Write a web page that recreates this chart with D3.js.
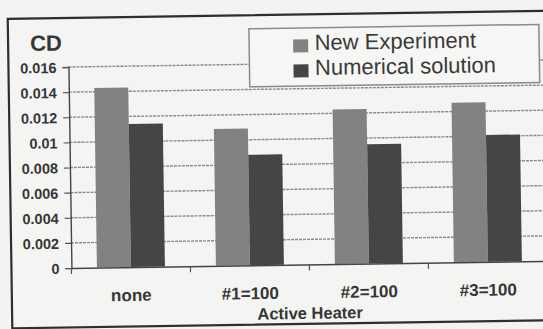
<!DOCTYPE html>
<html>
<head>
<meta charset="utf-8">
<script src="https://cdn.jsdelivr.net/npm/d3@7/dist/d3.min.js"></script>
<style>
  html, body { margin: 0; padding: 0; background: #f3f3f1; }
  svg { display: block; }
  text { font-family: "Liberation Sans", Arial, sans-serif; }
</style>
</head>
<body>
<script>
// Drag coefficient by active heater configuration
const categories = ["none", "#1=100", "#2=100", "#3=100"];
const seriesNames = ["New Experiment", "Numerical solution"];
const newExperiment = [0.0143, 0.0109, 0.0123, 0.0127];
const numericalSolution = [0.0114, 0.0088, 0.0095, 0.0101];
const yTickValues = [0, 0.002, 0.004, 0.006, 0.008, 0.01, 0.012, 0.014, 0.016];
const yTickLabels = ["0", "0.002", "0.004", "0.006", "0.008", "0.01", "0.012", "0.014", "0.016"];
const yTitle = "CD";
const xTitle = "Active Heater";

const W = 543, H = 329;
const colors = { "New Experiment": "#828282", "Numerical solution": "#454545" };
const ink = "#363636";

const svg = d3.select("body").append("svg").attr("width", W).attr("height", H);
svg.append("rect").attr("width", W).attr("height", H).attr("fill", "#f3f3f1");

// the whole sheet sits at a slight tilt
const g = svg.append("g").attr("transform", "rotate(-0.85 300 170)");

// outer chart frame
g.append("rect")
  .attr("x", 10).attr("y", 14.5).attr("width", 560).attr("height", 309.5)
  .attr("fill", "#f4f4f2").attr("stroke", "#2e2e2e").attr("stroke-width", 2.2);

const x0 = d3.scaleBand().domain(categories).range([70, 546]).paddingInner(0).paddingOuter(0);
const x1 = d3.scaleBand().domain(seriesNames).range([0, x0.bandwidth()])
  .paddingInner(0).paddingOuter(0.75);
const y = d3.scaleLinear().domain([0, 0.016]).range([264.6, 63.6]);

// gridlines
g.append("g").selectAll("line").data(yTickValues.filter(v => v > 0)).join("line")
  .attr("x1", x0.range()[0]).attr("x2", x0.range()[1] + 10)
  .attr("y1", d => y(d)).attr("y2", d => y(d))
  .attr("stroke", "#8a8a8a").attr("stroke-width", 1.4)
  .attr("stroke-dasharray", "3,1");

// y axis
const yAxis = d3.axisLeft(y).tickValues(yTickValues)
  .tickFormat((d, i) => yTickLabels[i]).tickSize(6).tickPadding(5);
const ya = g.append("g").attr("transform", `translate(${x0.range()[0]},0)`).call(yAxis);
ya.select(".domain").attr("stroke", "#444").attr("stroke-width", 1.4);
ya.selectAll(".tick line").attr("stroke", "#555").attr("stroke-width", 1.2);
ya.selectAll(".tick text").attr("fill", ink).attr("font-size", "14.5px")
  .attr("font-weight", "bold").attr("dx", "-1").attr("dy", "0.36em");

// bars
const rows = categories.map((c, i) => ({ cat: c, vals: [newExperiment[i], numericalSolution[i]] }));
const grp = g.append("g").selectAll("g").data(rows).join("g")
  .attr("transform", d => `translate(${x0(d.cat)},0)`);
grp.selectAll("rect").data(d => d.vals.map((v, k) => ({ s: seriesNames[k], v }))).join("rect")
  .attr("x", d => x1(d.s)).attr("width", x1.bandwidth())
  .attr("y", d => y(d.v)).attr("height", d => y(0) - y(d.v))
  .attr("fill", d => colors[d.s]);

// x axis line with boundary ticks
const xa = d3.axisBottom(x0).tickSize(0).tickPadding(0).tickFormat(() => "");
const xag = g.append("g").attr("transform", `translate(0,${y(0)})`).call(xa);
xag.select(".domain").attr("stroke", "#444").attr("stroke-width", 1.4);
g.append("g").selectAll("line").data(categories.map(c => x0(c)).concat([x0.range()[1]])).join("line")
  .attr("x1", d => d).attr("x2", d => d)
  .attr("y1", y(0)).attr("y2", y(0) + 6)
  .attr("stroke", "#555").attr("stroke-width", 1.2);

// category labels
g.append("g").selectAll("text").data(categories).join("text")
  .attr("x", d => x0(d) + x0.bandwidth() / 2).attr("y", 298.5)
  .attr("text-anchor", "middle").attr("fill", ink)
  .attr("font-size", "17px").attr("font-weight", "bold").text(d => d);

// axis titles
g.append("text").attr("x", 308).attr("y", 319)
  .attr("text-anchor", "middle").attr("fill", ink)
  .attr("font-size", "16.5px").attr("font-weight", "bold").text(xTitle);
g.append("text").attr("x", 32).attr("y", 47)
  .attr("fill", ink).attr("font-size", "22px").attr("font-weight", "bold").text(yTitle);

// legend
const lg = g.append("g");
lg.append("rect").attr("x", 251).attr("y", 28).attr("width", 290).attr("height", 58)
  .attr("fill", "#f6f6f4").attr("stroke", "#8a8a8a").attr("stroke-width", 1.5);
const li = lg.selectAll("g").data(seriesNames).join("g")
  .attr("transform", (d, i) => `translate(0,${i * 25})`);
li.append("rect").attr("x", 295).attr("y", 39.5).attr("width", 15).attr("height", 13)
  .attr("fill", d => colors[d]);
li.append("text").attr("x", 316.5).attr("y", 50.2)
  .attr("fill", "#3a3a3a").attr("font-size", "22px").text(d => d);
</script>
</body>
</html>
